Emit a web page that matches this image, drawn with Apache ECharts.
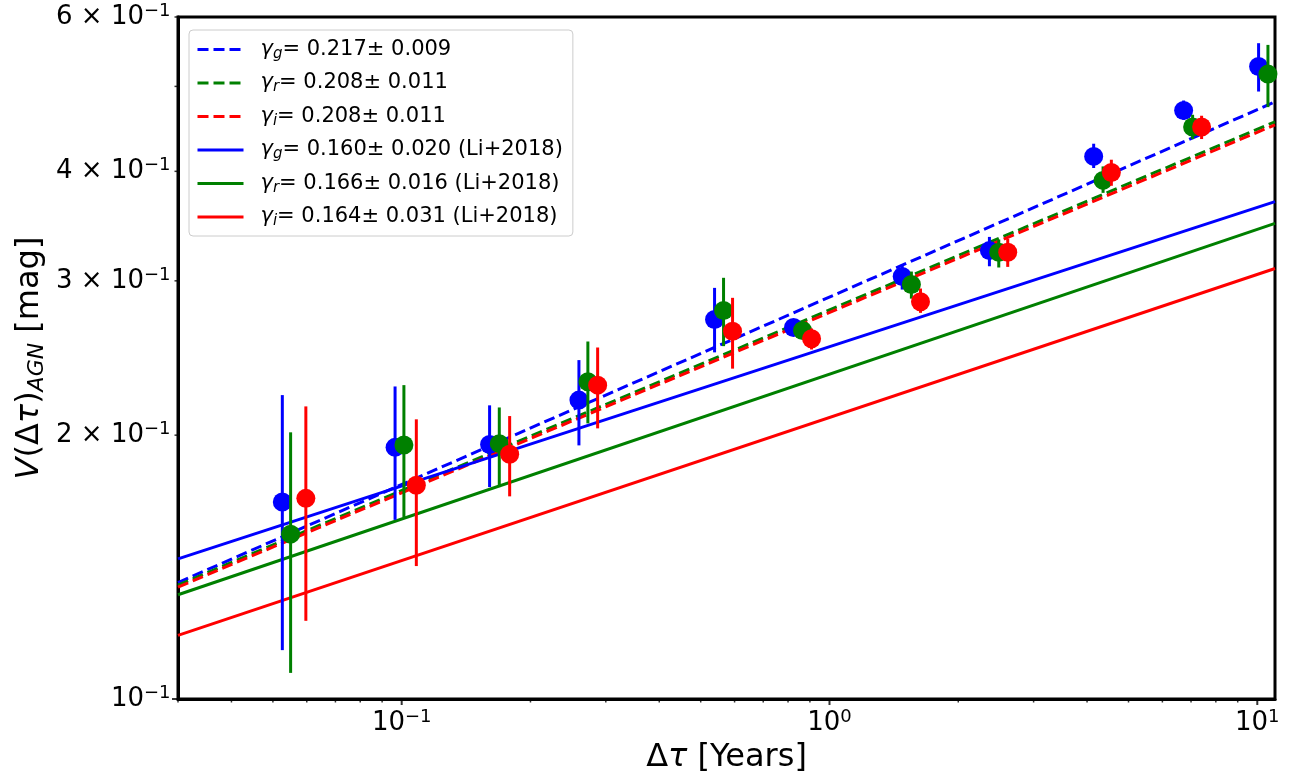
<!DOCTYPE html>
<html><head><meta charset="utf-8">
<script src="https://cdn.jsdelivr.net/npm/echarts@6/dist/echarts.min.js"></script>
<style>html,body{margin:0;padding:0;background:#fff}#c{width:1298px;height:779px}</style>
</head><body><div id="c"></div>
<script>
// ---------- data ----------
// g band (blue)
const gX  = [0.0526, 0.0965, 0.1605, 0.2596, 0.5387, 0.824, 1.479, 2.365, 4.145, 6.727, 10.07];
const gY  = [0.1678, 0.1937, 0.1952, 0.2193, 0.2710, 0.2654, 0.3034, 0.3248, 0.4160, 0.4693, 0.5268];
const gLo = [0.1137, 0.1601, 0.1745, 0.1947, 0.2486, 0.2612, 0.2932, 0.3117, 0.4035, 0.4580, 0.4933];
const gHi = [0.2222, 0.2273, 0.2163, 0.2436, 0.2945, 0.2696, 0.3130, 0.3367, 0.4301, 0.4818, 0.5601];
// r band (green)
const rX  = [0.0550, 0.1012, 0.1691, 0.2724, 0.5654, 0.865, 1.554, 2.487, 4.36, 7.06, 10.59];
const rY  = [0.1542, 0.1949, 0.1956, 0.2301, 0.2775, 0.2633, 0.2971, 0.3234, 0.3906, 0.4494, 0.5164];
const rLo = [0.1071, 0.1612, 0.1745, 0.2063, 0.2527, 0.2592, 0.2863, 0.3107, 0.3780, 0.4354, 0.4735];
const rHi = [0.2015, 0.2281, 0.2151, 0.2558, 0.3024, 0.2675, 0.3074, 0.3344, 0.4052, 0.4641, 0.5576];
// i band (red)
const iX  = [0.0597, 0.1082, 0.1788, 0.2871, 0.5935, 0.908, 1.632, 2.610, 4.559, 7.41];
const iY  = [0.1694, 0.1753, 0.1902, 0.2281, 0.2628, 0.2576, 0.2839, 0.3234, 0.3988, 0.4494];
const iLo = [0.1228, 0.1418, 0.1703, 0.2036, 0.2382, 0.2505, 0.2758, 0.3112, 0.3851, 0.4354];
const iHi = [0.2157, 0.2085, 0.2103, 0.2518, 0.2869, 0.2647, 0.2940, 0.3350, 0.4124, 0.4629];

// fitted power-law lines (end points at x = 0.03 and x = 11)
const fitX = [0.03, 11];
const fitGDash  = [0.1358, 0.4801];
const fitRDash  = [0.1349, 0.4556];
const fitIDash  = [0.1342, 0.4520];
const fitGSolid = [0.1445, 0.3694];
const fitRSolid = [0.1315, 0.3489];
const fitISolid = [0.1182, 0.3099];

const legendNames = ['fit_g', 'fit_r', 'fit_i', 'li_g', 'li_r', 'li_i'];
const legendTexts = [
  '{gm|γ}{sb|g}{t|= 0.217± 0.009}',
  '{gm|γ}{sb|r}{t|= 0.208± 0.011}',
  '{gm|γ}{sb|i}{t|= 0.208± 0.011}',
  '{gm|γ}{sb|g}{t|= 0.160± 0.020 (Li+2018)}',
  '{gm|γ}{sb|r}{t|= 0.166± 0.016 (Li+2018)}',
  '{gm|γ}{sb|i}{t|= 0.164± 0.031 (Li+2018)}'
];

// axis ticks
const xMajorTicks = [0.1, 1, 10];
const xMajorLabels = ['{n|10}{s|−1}', '{n|10}{s|0}', '{n|10}{s|1}'];
const xMinorTicks = [0.03, 0.04, 0.05, 0.06, 0.07, 0.08, 0.09, 0.2, 0.3, 0.4, 0.5, 0.6, 0.7, 0.8, 0.9, 2, 3, 4, 5, 6, 7, 8, 9];
const yMajorTicks = [0.1];
const yMinorTicks = [0.2, 0.3, 0.4, 0.5, 0.6];
const yLabelValues = [0.1, 0.2, 0.3, 0.4, 0.6];
const yLabels = ['{n|10}{s|−1}', '{n|2 × 10}{s|−1}', '{n|3 × 10}{s|−1}', '{n|4 × 10}{s|−1}', '{n|6 × 10}{s|−1}'];

// ---------- chart ----------
const FONT = 'DejaVu Sans';
const BLUE = '#0000ff', GREEN = '#008000', RED = '#ff0000';
const X0 = 0.03, X1 = 11, Y0 = 0.1, Y1 = 0.6;

const tickRich = {
  n: { fontFamily: FONT, fontSize: 26, color: '#000000', opacity: 1, textBorderWidth: 0 },
  s: { fontFamily: FONT, fontSize: 18, color: '#000000', opacity: 1, textBorderWidth: 0, padding: [0, 0, 12, 0] }
};

function fitLine(name, ys, color, dashed) {
  return {
    name, type: 'line', data: fitX.map((v, k) => [v, ys[k]]), symbol: 'none', silent: true, z: 2,
    lineStyle: { color, width: 3, type: dashed ? [11, 5] : 'solid' }, itemStyle: { color }
  };
}
function errBars(color, xs, lo, hi, z) {
  return {
    type: 'custom', silent: true, z,
    data: xs.map((v, k) => [v, lo[k], hi[k]]),
    encode: { x: 0, y: [1, 2] },
    renderItem(params, api) {
      const a = api.coord([api.value(0), api.value(1)]);
      const b = api.coord([api.value(0), api.value(2)]);
      return { type: 'line', shape: { x1: a[0], y1: a[1], x2: b[0], y2: b[1] }, style: { stroke: color, lineWidth: 3 } };
    }
  };
}
function points(color, xs, ys, z) {
  return {
    type: 'scatter', silent: true, z, symbol: 'circle', symbolSize: 19,
    itemStyle: { color, opacity: 1 }, data: xs.map((v, k) => [v, ys[k]])
  };
}
function tickSeries(data, size, offset) {
  return {
    type: 'scatter', silent: true, z: 20, clip: false, symbol: 'rect', symbolSize: size, symbolOffset: offset,
    itemStyle: { color: '#000' }, data
  };
}

const option = {
  animation: false,
  backgroundColor: '#fff',
  grid: { left: 178, right: 23, top: 17, bottom: 79, show: true, borderColor: '#000', borderWidth: 3, backgroundColor: 'transparent' },
  xAxis: {
    type: 'log', logBase: 10, min: X0, max: X1,
    axisLine: { show: true, lineStyle: { color: '#000', width: 3 } },
    axisTick: { show: false }, splitLine: { show: false }, minorTick: { show: false },
    axisLabel: {
      margin: 9, color: '#000000', opacity: 1,
      formatter: v => { const k = xMajorTicks.findIndex(t => Math.abs(t - v) / t < 1e-6); return k >= 0 ? xMajorLabels[k] : ''; },
      rich: tickRich
    },
    name: '{d|Δ}{t|τ}{n| [Years]}', nameLocation: 'middle', nameGap: 43,
    nameTextStyle: {
      color: '#000',
      rich: {
        d: { fontFamily: FONT, fontSize: 32, color: '#000' },
        t: { fontFamily: FONT, fontSize: 32, fontStyle: 'italic', color: '#000' },
        n: { fontFamily: FONT, fontSize: 32, color: '#000' }
      }
    }
  },
  yAxis: {
    type: 'log', logBase: 10, min: Y0, max: Y1,
    axisLine: { show: true, lineStyle: { color: '#000', width: 3 } },
    axisTick: { show: false }, splitLine: { show: false }, axisLabel: { show: false },
    name: '{i|V}{n|(Δ}{i|τ}{n|)}{sb|AGN}{n| [mag]}', nameLocation: 'middle', nameGap: 130, nameRotate: 90,
    nameTextStyle: {
      color: '#000',
      rich: {
        i: { fontFamily: FONT, fontSize: 32, fontStyle: 'italic', color: '#000' },
        n: { fontFamily: FONT, fontSize: 32, color: '#000' },
        sb: { fontFamily: FONT, fontSize: 22, fontStyle: 'italic', color: '#000', padding: [14, 0, 0, 0] }
      }
    }
  },
  legend: {
    orient: 'vertical', left: 189, top: 30, padding: [9, 10, 7, 7],
    itemWidth: 46, itemHeight: 14, itemGap: 11,
    borderColor: '#cccccc', borderWidth: 1, borderRadius: 4, backgroundColor: 'rgba(255,255,255,0.8)',
    lineStyle: { width: 3 },
    itemStyle: { opacity: 0, borderWidth: 0 },
    data: legendNames,
    formatter: name => legendTexts[legendNames.indexOf(name)],
    textStyle: {
      color: '#000',
      padding: [0, 0, 0, 12],
      rich: {
        gm: { fontFamily: FONT, fontSize: 21, fontStyle: 'italic', color: '#000' },
        sb: { fontFamily: FONT, fontSize: 15, fontStyle: 'italic', color: '#000', padding: [9, 0, 0, 0] },
        t: { fontFamily: FONT, fontSize: 21, color: '#000' }
      }
    }
  },
  series: [
    fitLine('fit_g', fitGDash, BLUE, true),
    fitLine('fit_r', fitRDash, GREEN, true),
    fitLine('fit_i', fitIDash, RED, true),
    fitLine('li_g', fitGSolid, BLUE, false),
    fitLine('li_r', fitRSolid, GREEN, false),
    fitLine('li_i', fitISolid, RED, false),
    errBars(BLUE, gX, gLo, gHi, 3), points(BLUE, gX, gY, 4),
    errBars(GREEN, rX, rLo, rHi, 5), points(GREEN, rX, rY, 6),
    errBars(RED, iX, iLo, iHi, 7), points(RED, iX, iY, 8),
    tickSeries(xMajorTicks.map(v => [v, Y0]), [2, 6], [0, 3]),
    tickSeries(xMinorTicks.map(v => [v, Y0]), [1.5, 3.5], [0, 1.75]),
    tickSeries(yMajorTicks.map(v => [X0, v]), [6, 2], [-3, 0]),
    tickSeries(yMinorTicks.map(v => [X0, v]), [3.5, 1.5], [-1.75, 0]),
    {
      type: 'scatter', silent: true, z: 20, clip: false, symbol: 'rect', symbolSize: [1, 1], symbolOffset: [-4, 0],
      itemStyle: { color: 'rgba(0,0,0,0)' }, data: yLabelValues.map(v => [X0, v]),
      label: { show: true, position: 'left', distance: 3, color: '#000000', opacity: 1, textBorderWidth: 0,
               formatter: p => yLabels[p.dataIndex], rich: tickRich }
    }
  ]
};
const chart = echarts.init(document.getElementById('c'));
chart.setOption(option);
</script>
</body></html>
